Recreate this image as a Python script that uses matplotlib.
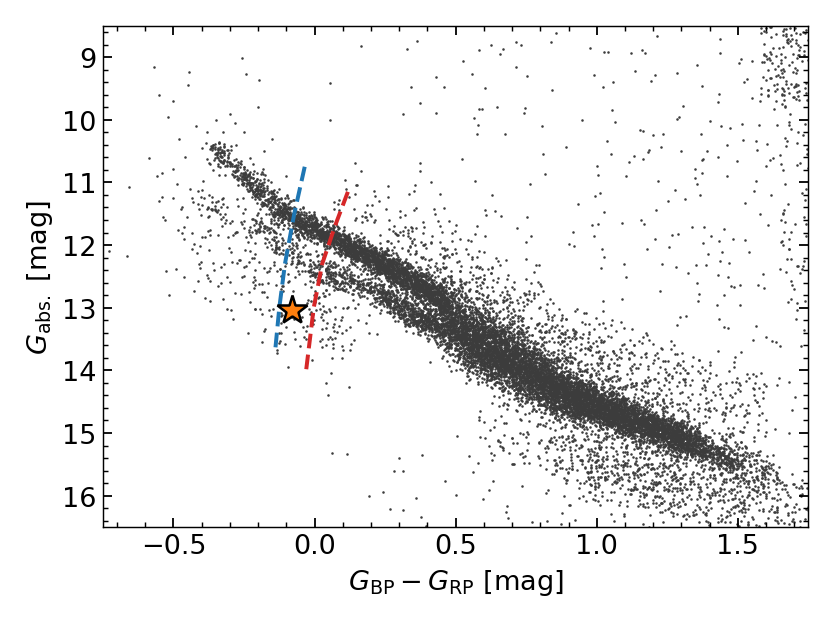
import numpy as np
import matplotlib
matplotlib.use("Agg")
import matplotlib.pyplot as plt
from matplotlib.ticker import MultipleLocator

# ---------------- values ----------------
# upper (A) branch ridge: colour, G, vertical spread, stars per segment
a_col = [-0.36, -0.25, -0.12, 0.00, 0.12, 0.23, 0.35, 0.46]
a_mag = [10.45, 10.90, 11.45, 11.75, 12.02, 12.28, 12.58, 12.92]
a_wid = [0.10, 0.11, 0.11, 0.10, 0.10, 0.10, 0.11, 0.13]
a_num = [130, 260, 360, 450, 500, 600, 650]

# lower (B) branch ridge
b_col = [-0.42, -0.23, 0.00, 0.23, 0.35, 0.46]
b_mag = [11.20, 11.62, 12.40, 12.76, 13.15, 13.32]
b_wid = [0.18, 0.16, 0.12, 0.10, 0.10, 0.12]
b_num = [45, 150, 300, 300, 340]

# merged sequence towards the red end
m_col = [0.46, 0.54, 0.78, 0.86, 1.00, 1.10, 1.34, 1.50, 1.62]
m_mag = [13.12, 13.45, 14.08, 14.32, 14.55, 14.75, 15.18, 15.48, 15.70]
m_wid = [0.25, 0.27, 0.24, 0.20, 0.17, 0.15, 0.13, 0.14, 0.16]
m_num = [700, 2300, 750, 1250, 800, 1500, 380, 90]

# diffuse halo above and below the merged sequence
up_col = [0.10, 0.40, 0.70, 1.00, 1.30, 1.60]
up_mag = [11.30, 12.30, 13.20, 13.90, 14.40, 14.80]
up_wid = [0.35, 0.40, 0.40, 0.40, 0.40, 0.45]
up_num = [130, 300, 320, 250, 160]

lo_col = [0.60, 0.90, 1.10, 1.30, 1.55, 1.75]
lo_mag = [14.90, 15.30, 15.60, 15.85, 16.05, 16.20]
lo_wid = [0.30, 0.32, 0.32, 0.30, 0.28, 0.28]
lo_num = [110, 230, 230, 190, 90]

# broad blue population under the two branches
bl_col = [-0.60, -0.40, -0.20, 0.00, 0.15]
bl_mag = [11.60, 12.00, 12.70, 13.20, 13.50]
bl_wid = [0.55, 0.50, 0.45, 0.40, 0.40]
bl_num = [30, 70, 90, 60]

# sparse points in the hot, bright corner
hot_col = [-0.57, -0.55, -0.52, -0.50, -0.48, -0.46, -0.45, -0.42, -0.40, -0.38,
           -0.56, -0.55, -0.53, -0.47, -0.44, -0.41, -0.37, -0.35, -0.30, -0.28,
           -0.25, -0.22, -0.20, -0.18, -0.33, -0.15, -0.10]
hot_mag = [9.15, 9.60, 9.95, 9.70, 10.30, 10.60, 9.45, 10.10, 10.45, 10.20,
           10.90, 11.30, 11.60, 11.80, 11.10, 12.30, 12.90, 10.00, 9.90, 10.40,
           10.20, 10.70, 9.80, 10.50, 12.60, 10.30, 10.90]

# sparse field over the whole panel (colour range, G range, count)
fld_col = [(-0.70, 0.30), (0.30, 1.00), (1.00, 1.50), (1.50, 1.75), (1.58, 1.75),
           (1.65, 1.75), (0.00, 0.90), (0.90, 1.75)]
fld_mag = [(8.6, 10.5), (8.6, 12.5), (8.6, 13.8), (8.6, 15.0), (8.5, 9.7),
           (9.5, 12.5), (15.2, 16.5), (15.8, 16.5)]
fld_num = [8, 70, 120, 90, 110, 40, 30, 60]

# tracks and the highlighted object
blue_col = [-0.035, -0.072, -0.105, -0.125, -0.140]
blue_mag = [10.75, 11.50, 12.30, 13.00, 13.70]
red_col = [0.118, 0.072, 0.027, -0.003, -0.030]
red_mag = [11.15, 11.70, 12.30, 13.00, 14.00]
star_col = [-0.08]
star_mag = [13.03]

# ---------------- build the point cloud ----------------
rng = np.random.default_rng(11)


def band(col, mag, wid, num, cjit=0.018):
    xs, ys = [], []
    for i, n in enumerate(num):
        t = rng.uniform(0, 1, n)
        x = col[i] + t * (col[i + 1] - col[i])
        y = mag[i] + t * (mag[i + 1] - mag[i])
        w = wid[i] + t * (wid[i + 1] - wid[i])
        xs.append(x + rng.normal(0, cjit, n))
        ys.append(y + rng.normal(0, 1, n) * w)
    return np.concatenate(xs), np.concatenate(ys)


parts = [band(a_col, a_mag, a_wid, a_num),
         band(b_col, b_mag, b_wid, b_num),
         band(m_col, m_mag, m_wid, m_num, 0.025),
         band(up_col, up_mag, up_wid, up_num, 0.05),
         band(lo_col, lo_mag, lo_wid, lo_num, 0.05),
         band(bl_col, bl_mag, bl_wid, bl_num, 0.06)]
for (c0, c1), (g0, g1), n in zip(fld_col, fld_mag, fld_num):
    parts.append((rng.uniform(c0, c1, n), rng.uniform(g0, g1, n)))
parts.append((np.array(hot_col), np.array(hot_mag)))

xall = np.concatenate([p[0] for p in parts])
yall = np.concatenate([p[1] for p in parts])

# ---------------- plot ----------------
plt.rcParams['font.family'] = ['DejaVu Sans']
plt.rcParams['mathtext.fontset'] = 'dejavusans'
plt.rcParams['font.size'] = 15

fig = plt.figure(figsize=(6.385, 4.7923), dpi=130)
ax = fig.add_axes([0.124, 0.1525, 0.850, 0.8045])

ax.scatter(xall, yall, s=2.0, c='#3c3c3c', linewidths=0, zorder=1)
ax.plot(blue_col, blue_mag, ls='--', lw=2.2, color='#1f77b4', zorder=3)
ax.plot(red_col, red_mag, ls='--', lw=2.2, color='#d62728', zorder=3)
ax.plot(star_col, star_mag, marker='*', ms=17, mfc='#ff7f0e', mec='black',
        mew=1.4, ls='none', zorder=4)

ax.set_xlim(-0.75, 1.75)
ax.set_ylim(16.5, 8.5)
ax.xaxis.set_major_locator(MultipleLocator(0.5))
ax.xaxis.set_minor_locator(MultipleLocator(0.1))
ax.yaxis.set_major_locator(MultipleLocator(1))
ax.yaxis.set_minor_locator(MultipleLocator(0.2))
ax.tick_params(which='both', direction='in', top=True, right=True)
ax.tick_params(which='major', length=5, width=1)
ax.tick_params(which='minor', length=2.5, width=0.8)

ax.set_xlabel(r'$G_{\rm BP} - G_{\rm RP}$ [mag]')
ax.set_ylabel(r'$G_{\rm abs.}$ [mag]')

fig.savefig('out.png', dpi=130)
